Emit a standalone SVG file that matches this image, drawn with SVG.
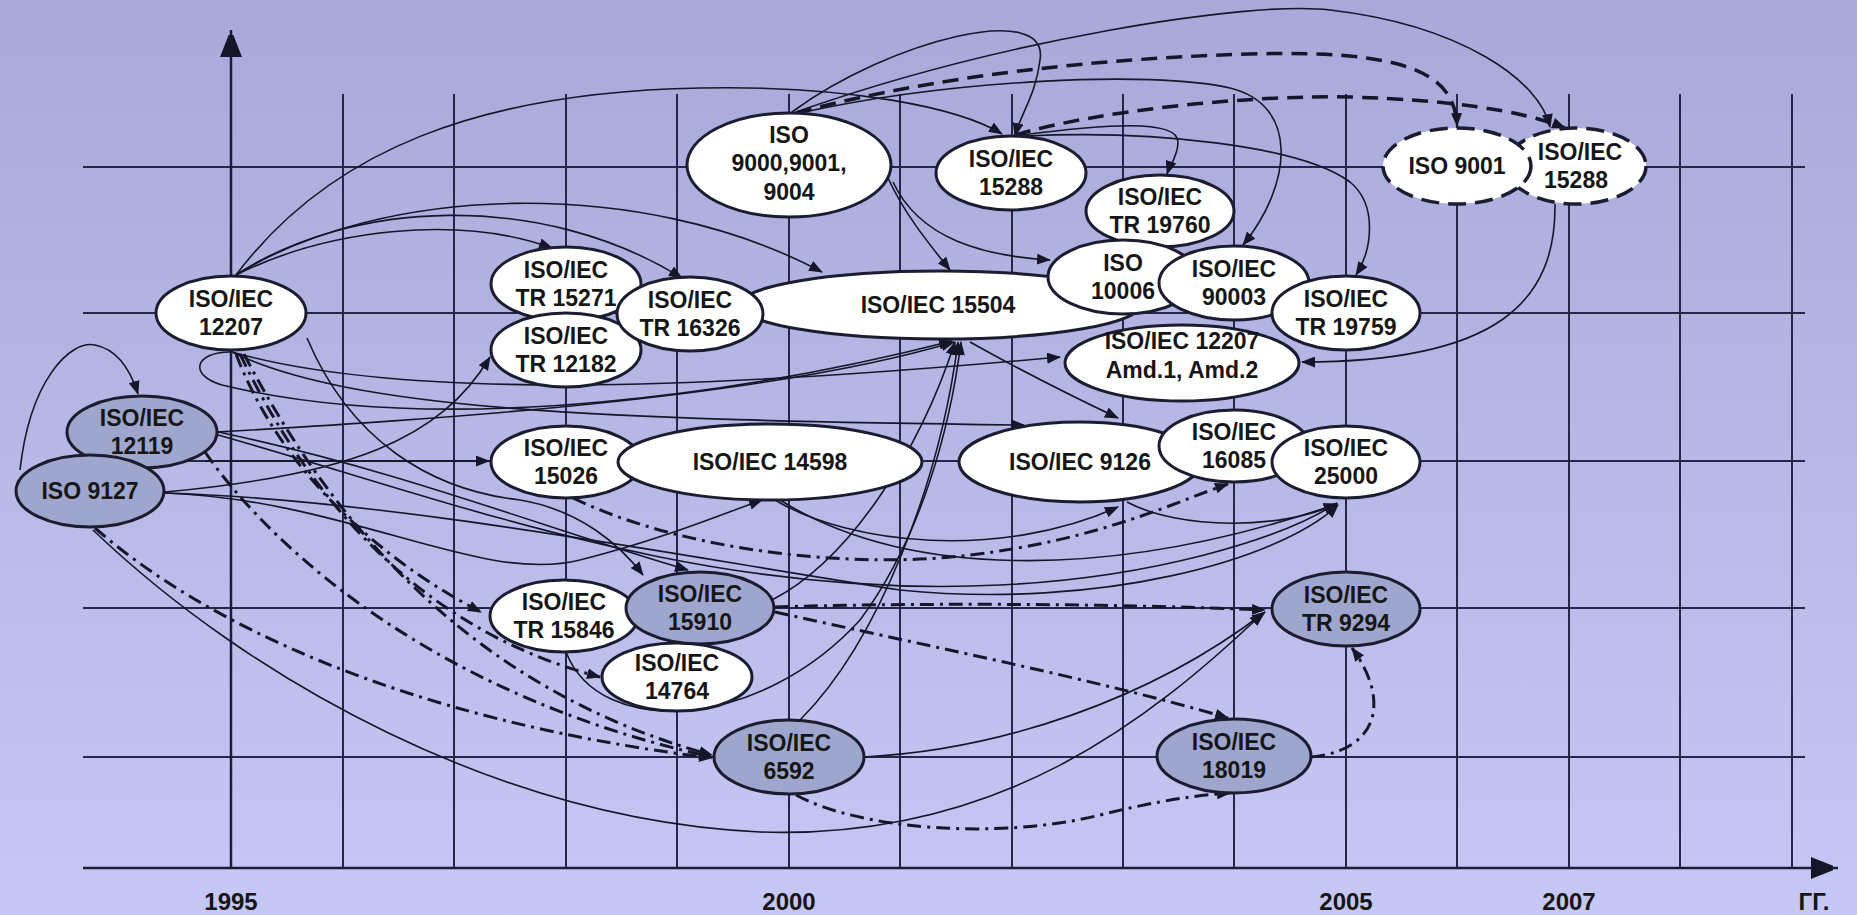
<svg xmlns="http://www.w3.org/2000/svg" width="1857" height="915" viewBox="0 0 1857 915">
<defs>
<linearGradient id="bg" x1="0" y1="0" x2="0" y2="1">
<stop offset="0" stop-color="#a8a9d8"/>
<stop offset="1" stop-color="#c6c7f4"/>
</linearGradient>
<marker id="ar" markerUnits="userSpaceOnUse" markerWidth="14" markerHeight="11" refX="13" refY="5.5" orient="auto">
<path d="M0,0 L14,5.5 L0,11 z" fill="#16162a"/>
</marker>
<marker id="axv" markerUnits="userSpaceOnUse" markerWidth="22" markerHeight="28" refX="27" refY="11" orient="auto">
<path d="M0,0 L28,11 L0,22 z" fill="#16162a"/>
</marker>
</defs>
<style>
.grid{stroke:#26264a;stroke-width:2;fill:none}
.axis{stroke:#1c1c36;stroke-width:2.5;fill:none}
.s{stroke:#16162a;stroke-width:1.6;fill:none}
.dd{stroke:#16162a;stroke-width:3;fill:none;stroke-dasharray:14 6 3 6}
.da{stroke:#16162a;stroke-width:3.5;fill:none;stroke-dasharray:16 9}
.w{fill:#ffffff;stroke:#1c1c30;stroke-width:3}
.g{fill:#9ea6cd;stroke:#1c1c30;stroke-width:3}
.wd{fill:#ffffff;stroke:#1c1c30;stroke-width:3.5;stroke-dasharray:18 9}
text{font-family:"Liberation Sans",Arial,sans-serif;font-weight:bold;font-size:23px;fill:#161616;text-anchor:middle}
.yr{font-size:24px}
</style>
<rect x="0" y="0" width="1857" height="915" fill="url(#bg)"/>
<g id="grid">
<path class="grid" d="M343,94V868 M454,94V868 M566,94V868 M677,94V868 M789,94V868 M900,94V868 M1012,94V868 M1123,94V868 M1234,94V868 M1346,94V868 M1457,94V868 M1569,94V868 M1680,94V868 M1792,94V868"/>
<path class="grid" d="M83,167H1805 M83,313H1805 M83,461H1805 M83,608H1805 M83,757H1805"/>
<path class="axis" d="M231,868V30" marker-end="url(#axv)"/>
<path class="axis" d="M83,868H1838" marker-end="url(#axv)"/>
</g>
<g id="labels">
<text class="yr" x="231" y="910">1995</text>
<text class="yr" x="789" y="910">2000</text>
<text class="yr" x="1346" y="910">2005</text>
<text class="yr" x="1569" y="910">2007</text>
<text class="yr" x="1814" y="910">ГГ.</text>
</g>
<g id="connectors">
<path class="s" marker-end="url(#ar)" d="M236,275 C330,150 480,92 700,88 C850,85 960,108 1002,134"/>
<path class="s" marker-end="url(#ar)" d="M236,275 C330,228 460,215 552,248"/>
<path class="s" marker-end="url(#ar)" d="M236,275 C350,200 540,190 682,278"/>
<path class="s" marker-end="url(#ar)" d="M236,275 C380,185 640,175 822,272"/>
<path class="s" marker-end="url(#ar)" d="M792,112 C890,40 1050,0 1040,60 C1036,95 1020,115 1015,136"/>
<path class="s" marker-end="url(#ar)" d="M796,112 C1000,40 1250,0 1330,10 C1460,25 1540,80 1550,127"/>
<path class="s" marker-end="url(#ar)" d="M800,113 C950,80 1150,70 1230,88 C1300,105 1292,185 1243,245"/>
<path class="s" marker-end="url(#ar)" d="M1022,135 C1100,125 1178,118 1178,142 C1178,156 1170,165 1167,174"/>
<path class="s" marker-end="url(#ar)" d="M1025,136 C1150,130 1300,145 1350,182 C1378,205 1372,250 1356,275"/>
<path class="s" marker-end="url(#ar)" d="M1555,204 C1556,300 1500,362 1302,362"/>
<path class="s" marker-end="url(#ar)" d="M888,178 C905,215 930,245 950,270"/>
<path class="s" marker-end="url(#ar)" d="M893,182 C920,240 985,256 1050,260"/>
<path class="s" marker-end="url(#ar)" d="M20,470 C30,380 70,340 95,345 C120,350 132,375 138,394"/>
<path class="s" marker-end="url(#ar)" d="M205,461 L489,461"/>
<path class="s" marker-end="url(#ar)" d="M165,492 C350,475 440,440 490,357"/>
<path class="s" marker-end="url(#ar)" d="M230,352 C195,352 188,375 222,385 C450,440 760,390 952,341"/>
<path class="s" marker-end="url(#ar)" d="M232,352 C400,400 700,390 1060,357"/>
<path class="s" marker-end="url(#ar)" d="M232,352 C350,410 600,420 1024,425"/>
<path class="s" marker-end="url(#ar)" d="M307,338 C350,440 430,490 520,500 C580,510 620,545 643,575"/>
<path class="s" marker-end="url(#ar)" d="M218,432 C400,470 550,530 688,570"/>
<path class="s" marker-end="url(#ar)" d="M218,435 C450,500 700,600 1000,585 C1150,578 1280,540 1337,503"/>
<path class="s" marker-end="url(#ar)" d="M218,432 C420,420 760,400 954,342"/>
<path class="s" marker-end="url(#ar)" d="M165,493 C350,500 480,585 580,560 C660,540 720,515 762,500"/>
<path class="s" marker-end="url(#ar)" d="M165,493 C400,500 700,560 900,590 C1100,610 1280,560 1338,505"/>
<path class="s" marker-end="url(#ar)" d="M775,500 C850,545 1000,560 1118,507"/>
<path class="s" marker-end="url(#ar)" d="M780,500 C900,575 1100,585 1337,504"/>
<path class="s" marker-end="url(#ar)" d="M1127,502 C1180,530 1280,530 1337,504"/>
<path class="s" marker-end="url(#ar)" d="M970,342 C1020,370 1080,400 1118,418"/>
<path class="s" marker-end="url(#ar)" d="M772,600 C850,560 920,450 955,342"/>
<path class="s" marker-end="url(#ar)" d="M800,720 C880,640 940,480 958,342"/>
<path class="s" marker-end="url(#ar)" d="M566,652 C600,740 760,730 860,620 C920,540 950,430 961,342"/>
<path class="s" marker-end="url(#ar)" d="M864,757 C1000,750 1150,700 1265,612"/>
<path class="s" marker-end="url(#ar)" d="M93,530 C250,680 500,820 760,832 C1000,840 1150,720 1263,613"/>
<path class="dd" marker-end="url(#ar)" d="M236,354 C280,470 380,560 481,612"/>
<path class="dd" marker-end="url(#ar)" d="M240,354 C310,500 420,630 600,677"/>
<path class="dd" marker-end="url(#ar)" d="M244,354 C330,520 470,690 712,755"/>
<path class="dd" marker-end="url(#ar)" d="M205,452 C280,560 450,700 712,757"/>
<path class="dd" marker-end="url(#ar)" d="M95,528 C200,620 400,720 712,758"/>
<path class="dd" marker-end="url(#ar)" d="M573,498 C680,550 850,570 970,555 C1100,540 1180,500 1228,484"/>
<path class="dd" marker-end="url(#ar)" d="M775,607 C900,603 1100,603 1265,610"/>
<path class="dd" marker-end="url(#ar)" d="M775,612 C900,640 1100,680 1228,718"/>
<path class="dd" marker-end="url(#ar)" d="M796,795 C860,830 1000,840 1100,815 C1160,800 1200,795 1230,793"/>
<path class="dd" marker-end="url(#ar)" d="M1311,757 C1380,750 1390,700 1352,648"/>
<path class="da" marker-end="url(#ar)" d="M796,113 C900,85 1050,60 1250,54 C1400,50 1455,70 1457,126"/>
<path class="da" marker-end="url(#ar)" d="M1015,135 C1100,110 1250,95 1350,97 C1450,100 1520,110 1565,128"/>
</g>
<g id="n15271"><ellipse class="w" cx="566" cy="284" rx="75" ry="37"/><text x="566" y="278">ISO/IEC</text><text x="566" y="306">TR 15271</text></g>
<g id="n12182"><ellipse class="w" cx="566" cy="350" rx="75" ry="37"/><text x="566" y="344">ISO/IEC</text><text x="566" y="372">TR 12182</text></g>
<g id="n15504"><ellipse class="w" cx="940" cy="305" rx="200" ry="34"/><text x="938" y="313">ISO/IEC 15504</text></g>
<g id="n16326"><ellipse class="w" cx="690" cy="314" rx="73" ry="37"/><text x="690" y="308">ISO/IEC</text><text x="690" y="336">TR 16326</text></g>
<g id="nAmd"><ellipse class="w" cx="1182" cy="363" rx="117" ry="38"/><text x="1182" y="349">ISO/IEC 12207</text><text x="1182" y="378">Amd.1, Amd.2</text></g>
<g id="n19760"><ellipse class="w" cx="1160" cy="211" rx="74" ry="36"/><text x="1160" y="205">ISO/IEC</text><text x="1160" y="233">TR 19760</text></g>
<g id="n10006"><ellipse class="w" cx="1123" cy="277" rx="75" ry="37"/><text x="1123" y="271">ISO</text><text x="1123" y="299">10006</text></g>
<g id="n90003"><ellipse class="w" cx="1234" cy="283" rx="75" ry="37"/><text x="1234" y="277">ISO/IEC</text><text x="1234" y="305">90003</text></g>
<g id="n19759"><ellipse class="w" cx="1346" cy="313" rx="74" ry="37"/><text x="1346" y="307">ISO/IEC</text><text x="1346" y="335">TR 19759</text></g>
<g id="n9000"><ellipse class="w" cx="789" cy="165" rx="102" ry="52"/><text x="789" y="143">ISO</text><text x="789" y="171">9000,9001,</text><text x="789" y="200">9004</text></g>
<g id="n15288"><ellipse class="w" cx="1011" cy="173" rx="75" ry="37"/><text x="1011" y="167">ISO/IEC</text><text x="1011" y="195">15288</text></g>
<g id="n15288d"><ellipse class="wd" cx="1576" cy="166" rx="70" ry="38"/><text x="1580" y="160">ISO/IEC</text><text x="1576" y="188">15288</text></g>
<g id="n9001d"><ellipse class="wd" cx="1457" cy="166" rx="74" ry="38"/><text x="1457" y="174">ISO 9001</text></g>
<g id="n15026"><ellipse class="w" cx="566" cy="462" rx="75" ry="36"/><text x="566" y="456">ISO/IEC</text><text x="566" y="484">15026</text></g>
<g id="n14598"><ellipse class="w" cx="770" cy="462" rx="152" ry="38"/><text x="770" y="470">ISO/IEC 14598</text></g>
<g id="n9126"><ellipse class="w" cx="1080" cy="462" rx="121" ry="40"/><text x="1080" y="470">ISO/IEC 9126</text></g>
<g id="n16085"><ellipse class="w" cx="1234" cy="446" rx="75" ry="36"/><text x="1234" y="440">ISO/IEC</text><text x="1234" y="468">16085</text></g>
<g id="n25000"><ellipse class="w" cx="1346" cy="462" rx="74" ry="36"/><text x="1346" y="456">ISO/IEC</text><text x="1346" y="484">25000</text></g>
<g id="n12207"><ellipse class="w" cx="231" cy="313" rx="75" ry="37"/><text x="231" y="307">ISO/IEC</text><text x="231" y="335">12207</text></g>
<g id="n12119"><ellipse class="g" cx="142" cy="432" rx="75" ry="36"/><text x="142" y="426">ISO/IEC</text><text x="142" y="454">12119</text></g>
<g id="n9127"><ellipse class="g" cx="90" cy="491" rx="74" ry="36"/><text x="90" y="499">ISO 9127</text></g>
<g id="n14764"><ellipse class="w" cx="677" cy="677" rx="75" ry="34"/><text x="677" y="671">ISO/IEC</text><text x="677" y="699">14764</text></g>
<g id="n15846"><ellipse class="w" cx="564" cy="616" rx="74" ry="36"/><text x="564" y="610">ISO/IEC</text><text x="564" y="638">TR 15846</text></g>
<g id="n15910"><ellipse class="g" cx="700" cy="608" rx="74" ry="36"/><text x="700" y="602">ISO/IEC</text><text x="700" y="630">15910</text></g>
<g id="n6592"><ellipse class="g" cx="789" cy="757" rx="75" ry="37"/><text x="789" y="751">ISO/IEC</text><text x="789" y="779">6592</text></g>
<g id="n9294"><ellipse class="g" cx="1346" cy="609" rx="74" ry="37"/><text x="1346" y="603">ISO/IEC</text><text x="1346" y="631">TR 9294</text></g>
<g id="n18019"><ellipse class="g" cx="1234" cy="756" rx="77" ry="37"/><text x="1234" y="750">ISO/IEC</text><text x="1234" y="778">18019</text></g>
</svg>
